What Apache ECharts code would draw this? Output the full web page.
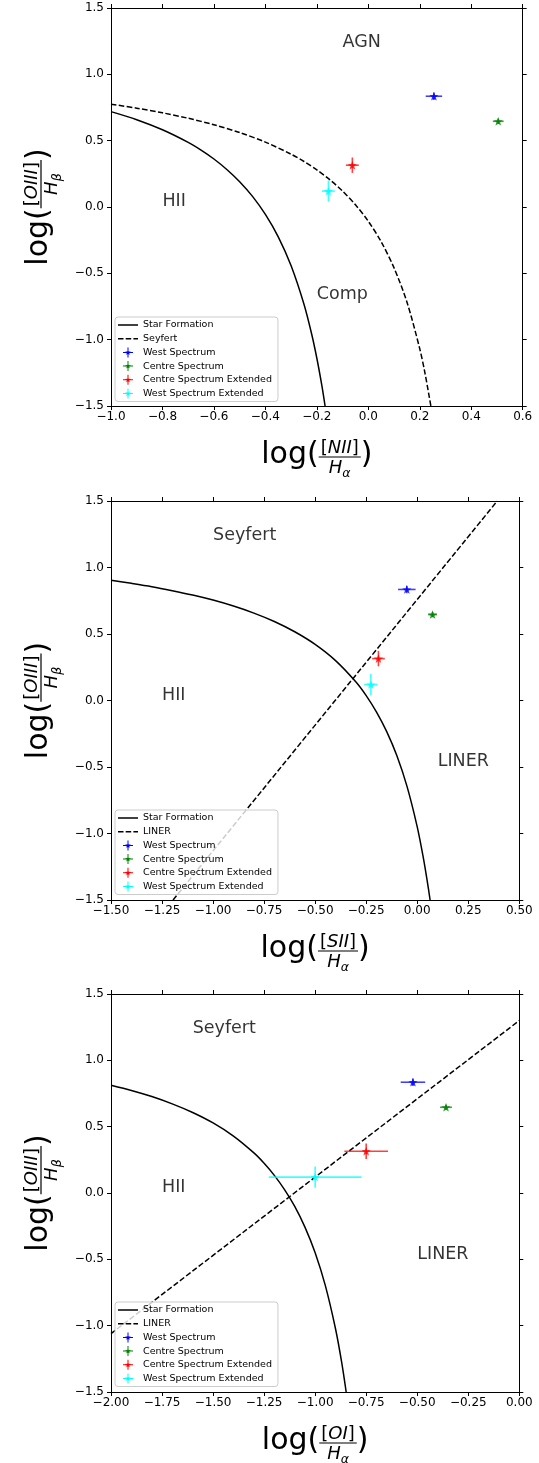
<!DOCTYPE html>
<html>
<head>
<meta charset="utf-8">
<script src="https://cdn.jsdelivr.net/npm/echarts@6/dist/echarts.min.js"></script>
<style>
  html, body { margin: 0; padding: 0; background: #ffffff; }
  #bpt { width: 539px; height: 1463px; }
</style>
</head>
<body>
<div id="bpt"></div>
<script>
// spectra, in legend order
const spectra = ['West Spectrum', 'Centre Spectrum', 'Centre Spectrum Extended', 'West Spectrum Extended'];
const spectraColors = ['#0000ff', '#008000', '#ff0000', '#00ffff'];

// line ratios (same order as spectra)
const oiiiHb = [0.835, 0.646, 0.315, 0.12];
const oiiiHbErr = [0.028, 0.02, 0.058, 0.08];
const niiHa = [0.255, 0.505, -0.062, -0.155];
const niiHaErr = [0.032, 0.021, 0.025, 0.025];
const siiHa = [-0.051, 0.075, -0.19, -0.227];
const siiHaErr = [0.043, 0.022, 0.031, 0.033];
const oiHa = [-0.521, -0.359, -0.75, -1.0];
const oiHaErr = [0.06, 0.029, 0.107, 0.227];

// demarcation lines, points
const niiStarForm = [[-1.0, 0.719], [-0.9, 0.658], [-0.8, 0.582], [-0.7, 0.487], [-0.65, 0.429], [-0.6, 0.362],
  [-0.55, 0.283], [-0.5, 0.191], [-0.45, 0.08], [-0.4, -0.056], [-0.35, -0.225], [-0.3, -0.443],
  [-0.25, -0.733], [-0.22, -0.959], [-0.2, -1.14], [-0.18, -1.352], [-0.168, -1.5]];
const niiSeyfert = [[-1.0, 0.775], [-0.9, 0.745], [-0.8, 0.71], [-0.7, 0.669], [-0.6, 0.62], [-0.5, 0.561],
  [-0.4, 0.489], [-0.3, 0.398], [-0.25, 0.343], [-0.2, 0.28], [-0.15, 0.206], [-0.1, 0.12], [-0.05, 0.017],
  [0.0, -0.108], [0.05, -0.262], [0.1, -0.459], [0.15, -0.716], [0.2, -1.069], [0.22, -1.25], [0.243, -1.5]];
const siiStarForm = [[-1.5, 0.904], [-1.4, 0.881], [-1.3, 0.856], [-1.2, 0.826], [-1.1, 0.793], [-1.0, 0.755],
  [-0.9, 0.71], [-0.8, 0.657], [-0.7, 0.594], [-0.6, 0.517], [-0.5, 0.422], [-0.4, 0.3], [-0.3, 0.139],
  [-0.25, 0.037], [-0.2, -0.085], [-0.15, -0.232], [-0.1, -0.414], [-0.05, -0.646], [0.0, -0.95],
  [0.03, -1.183], [0.05, -1.367], [0.063, -1.5]];
const siiLiner = [[-1.196, -1.5], [0.392, 1.5]];
const oiStarForm = [[-2.0, 0.812], [-1.9, 0.773], [-1.8, 0.727], [-1.7, 0.672], [-1.6, 0.607], [-1.5, 0.528],
  [-1.4, 0.429], [-1.3, 0.302], [-1.25, 0.224], [-1.2, 0.133], [-1.15, 0.026], [-1.1, -0.101],
  [-1.05, -0.257], [-1.0, -0.45], [-0.95, -0.698], [-0.9, -1.025], [-0.87, -1.277], [-0.848, -1.5]];
const oiLiner = [[-2.0, -1.06], [0.0, 1.3]];

// region names
const niiRegions = [['AGN', -0.1, 1.2], ['HII', -0.8, 0.0], ['Comp', -0.2, -0.7]];
const siiRegions = [['Seyfert', -1.0, 1.2], ['HII', -1.25, 0.0], ['LINER', 0.1, -0.5]];
const oiRegions = [['Seyfert', -1.6, 1.2], ['HII', -1.75, 0.0], ['LINER', -0.5, -0.5]];

// axis ranges: min, max, tick step
const oiiiAxis = [-1.5, 1.5, 0.5];
const niiAxis = [-1.0, 0.6, 0.2];
const siiAxis = [-1.5, 0.5, 0.25];
const oiAxis = [-2.0, 0.0, 0.25];

const FONT = 'DejaVu Sans';
const STAR = 'M10 4 L11.47 7.98 L15.71 8.15 L12.38 10.77 L13.53 14.85 L10 12.5 L6.47 14.85 L7.62 10.77 L4.29 8.15 L8.53 7.98 Z';
const STAR_ICON = 'path://M0 9 H20 V11 H0 Z M9 0 H11 V20 H9 Z ' + STAR;
const SOLID_ICON = 'path://M0 0 H20 V1.5 H0 Z';
const DASH_ICON = 'path://M0 0 H5.5 V1.5 H0 Z M7.7 0 H13.2 V1.5 H7.7 Z M15.4 0 H20 V1.5 H15.4 Z';

const panels = [
  { top: 8, height: 398, width: 411.7, x: niiHa, xErr: niiHaErr, axis: niiAxis, digits: 1,
    sf: niiStarForm, div: niiSeyfert, divName: 'Seyfert', regions: niiRegions, num: 'NII', legendTop: 317 },
  { top: 501, height: 399, width: 408.3, x: siiHa, xErr: siiHaErr, axis: siiAxis, digits: 2,
    sf: siiStarForm, div: siiLiner, divName: 'LINER', regions: siiRegions, num: 'SII', legendTop: 810 },
  { top: 994, height: 398, width: 408.3, x: oiHa, xErr: oiHaErr, axis: oiAxis, digits: 2,
    sf: oiStarForm, div: oiLiner, divName: 'LINER', regions: oiRegions, num: 'OI', legendTop: 1302 }
];

function tickFmt(digits) {
  return v => (Math.abs(v) < 1e-9 ? 0 : v).toFixed(digits).replace('-', '\u2212');
}

function axis(pos, gridIndex, range, digits, labels) {
  return {
    type: 'value', gridIndex: gridIndex, position: pos,
    min: range[0], max: range[1], interval: range[2],
    axisLine: { show: true, onZero: false, lineStyle: { color: '#000', width: 1 } },
    axisTick: { show: true, inside: false, length: 4, lineStyle: { color: '#000', width: 1 } },
    axisLabel: {
      show: labels, margin: pos === 'left' ? 7 : 5, color: '#000', fontSize: 12, fontFamily: FONT,
      formatter: tickFmt(digits), showMinLabel: true, showMaxLabel: true
    },
    splitLine: { show: false }
  };
}

function errorBarItem(params, api) {
  const x = api.value(0), y = api.value(1), xe = api.value(2), ye = api.value(3);
  const c = api.coord([x, y]);
  const l = api.coord([x - xe, y]), r = api.coord([x + xe, y]);
  const t = api.coord([x, y + ye]), b = api.coord([x, y - ye]);
  const color = api.visual('color');
  const bar = { stroke: color, lineWidth: 1.6, opacity: 0.75 };
  return {
    type: 'group',
    children: [
      { type: 'line', shape: { x1: l[0], y1: l[1], x2: r[0], y2: r[1] }, style: bar },
      { type: 'line', shape: { x1: t[0], y1: t[1], x2: b[0], y2: b[1] }, style: bar },
      { type: 'path', shape: { pathData: STAR, x: c[0] - 4.5, y: c[1] - 4.5, width: 9, height: 9 },
        style: { fill: color, opacity: 0.8 } }
    ]
  };
}

// log([num]/H_sub) drawn as a fraction, centred on (x, y) at the fraction bar
const ctx = document.createElement('canvas').getContext('2d');
function textW(str, size, style) {
  ctx.font = (style || 'normal') + ' ' + size + 'px "' + FONT + '"';
  return ctx.measureText(str).width;
}
function txt(str, x, y, size, style) {
  return { type: 'text', x: x, y: y,
    style: { text: str, fontSize: size, fontFamily: FONT, fontStyle: style || 'normal', fill: '#000',
      align: 'left', verticalAlign: 'middle' } };
}
function axisTitle(num, sub, x, y, vertical) {
  const big = 30, mid = 18, small = 12.5;
  const brW = textW('[', mid), numW = textW(num, mid, 'italic');
  const hW = textW('H', mid, 'italic'), subW = textW(sub, small, 'italic');
  const topW = 2 * brW + numW, botW = hW + subW;
  const fracW = Math.max(topW, botW) + 4;
  const logW = textW('log(', big), closeW = textW(')', big);
  const x0 = -(logW + fracW + closeW) / 2;
  const fc = x0 + logW + fracW / 2;
  const nx = fc - topW / 2, dx = fc - botW / 2;
  return {
    type: 'group', x: x, y: y, rotation: vertical ? Math.PI / 2 : 0,
    children: [
      txt('log(', x0, -1.4, big),
      txt('[', nx, -8.3, mid),
      txt(num, nx + brW, -8.3, mid, 'italic'),
      txt(']', nx + brW + numW, -8.3, mid),
      { type: 'line', shape: { x1: x0 + logW, y1: 0, x2: x0 + logW + fracW, y2: 0 },
        style: { stroke: '#000', lineWidth: 1.2 } },
      txt('H', dx, 11.5, mid, 'italic'),
      txt(sub, dx + hW, 16.6, small, 'italic'),
      txt(')', x0 + logW + fracW, -1.4, big)
    ]
  };
}

const grids = [], xAxes = [], yAxes = [], series = [], legends = [], titles = [];

panels.forEach((p, i) => {
  grids.push({ left: 111, top: p.top, width: p.width, height: p.height, show: false });
  xAxes.push(axis('bottom', i, p.axis, p.digits, true), axis('top', i, p.axis, p.digits, false));
  yAxes.push(axis('left', i, oiiiAxis, 1, true), axis('right', i, oiiiAxis, 1, false));
  const xi = 2 * i, yi = 2 * i;

  series.push({
    name: 'Star Formation', type: 'line', xAxisIndex: xi, yAxisIndex: yi,
    data: p.sf, symbol: 'none', smooth: 0.3, clip: true,
    lineStyle: { color: '#000', width: 1.5 }, itemStyle: { color: '#000' }
  });
  series.push({
    name: p.divName, type: 'line', xAxisIndex: xi, yAxisIndex: yi,
    data: p.div, symbol: 'none', smooth: 0.3, clip: true,
    lineStyle: { color: '#000', width: 1.5, type: [5.5, 2.4] }, itemStyle: { color: '#000' }
  });
  spectra.forEach((name, k) => {
    series.push({
      name: name, type: 'custom', xAxisIndex: xi, yAxisIndex: yi,
      itemStyle: { color: spectraColors[k] },
      renderItem: errorBarItem,
      data: [[p.x[k], oiiiHb[k], p.xErr[k], oiiiHbErr[k]]],
      z: 5
    });
  });
  series.push({
    type: 'scatter', xAxisIndex: xi, yAxisIndex: yi, silent: true, symbolSize: 0,
    data: p.regions.map(r => [r[1], r[2], r[0]]),
    label: {
      show: true, position: [0, 0], align: 'left', verticalAlign: 'middle', offset: [0, -5.2],
      formatter: prm => prm.value[2], fontSize: 17.5, fontFamily: FONT, color: '#000'
    }
  });

  legends.push({
    orient: 'vertical', left: 115, top: p.legendTop, selectedMode: false,
    data: [{ name: 'Star Formation', icon: SOLID_ICON }, { name: p.divName, icon: DASH_ICON }]
      .concat(spectra.map(n => ({ name: n, icon: STAR_ICON }))),
    itemWidth: 20, itemHeight: 10, itemGap: 3.7,
    textStyle: { fontSize: 9.5, fontFamily: FONT, color: '#000' },
    padding: [3, 6, 3, 3],
    backgroundColor: 'rgba(255,255,255,0.8)', borderColor: '#cccccc', borderWidth: 1, borderRadius: 3
  });

  titles.push(axisTitle(p.num, '\u03b1', 111 + p.width / 2, p.top + p.height + 51, false));
  titles.push(axisTitle('OIII', '\u03b2', 41, p.top + p.height / 2, true));
});

const chart = echarts.init(document.getElementById('bpt'));
chart.setOption({
  backgroundColor: '#ffffff',
  animation: false,
  textStyle: { fontFamily: FONT },
  grid: grids,
  xAxis: xAxes,
  yAxis: yAxes,
  legend: legends,
  series: series,
  graphic: titles
});
</script>
</body>
</html>
